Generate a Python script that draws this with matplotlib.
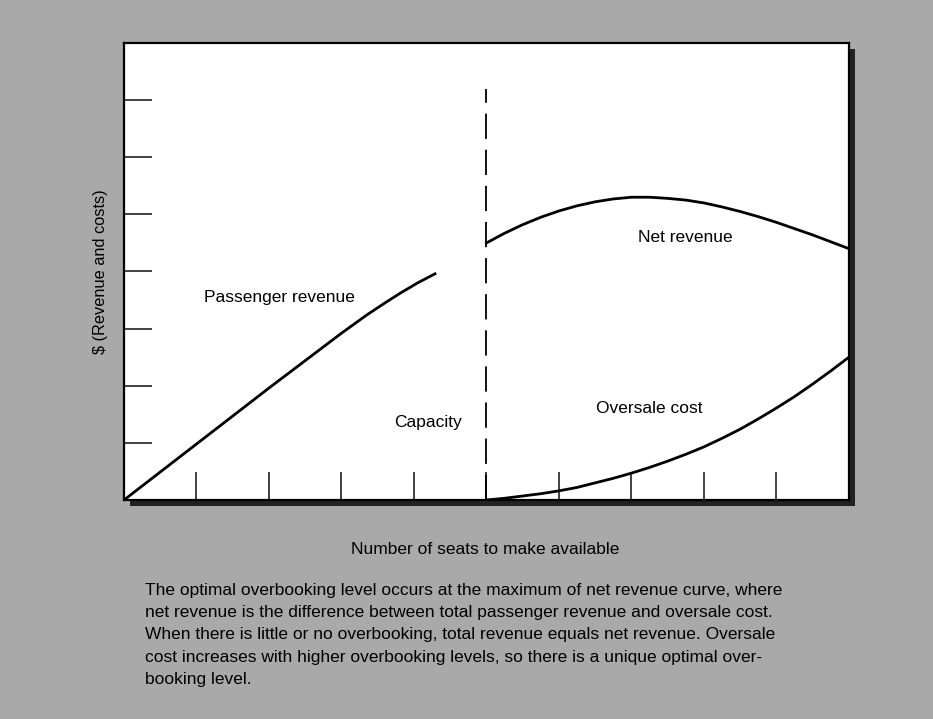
import numpy as np
import matplotlib.pyplot as plt
from matplotlib.patches import Rectangle

# curve values in chart units (x: seats, y: dollars)
pass_x = [0, 1, 2, 2.5, 3, 3.35, 3.6, 3.81, 4.05, 4.29]
pass_y = [0, 0.98, 1.96, 2.44, 2.92, 3.24, 3.45, 3.62, 3.8, 3.96]

net_x = [5, 5.25, 5.5, 5.75, 6, 6.25, 6.5, 6.75, 7, 7.25, 7.5,
         7.75, 8, 8.25, 8.5, 8.75, 9, 9.25, 9.5, 9.75, 10]
net_y = [4.5, 4.67, 4.82, 4.95, 5.06, 5.15, 5.22, 5.27, 5.3, 5.3, 5.28,
         5.25, 5.2, 5.13, 5.05, 4.96, 4.86, 4.75, 4.64, 4.52, 4.4]

cost_x = [5, 5.25, 5.5, 5.75, 6, 6.25, 6.5, 6.75, 7, 7.25, 7.5,
          7.75, 8, 8.25, 8.5, 8.75, 9, 9.25, 9.5, 9.75, 10]
cost_y = [0, 0.03, 0.07, 0.11, 0.16, 0.22, 0.3, 0.38, 0.47, 0.57, 0.68,
          0.8, 0.93, 1.08, 1.24, 1.42, 1.61, 1.81, 2.03, 2.26, 2.5]

capacity = 5
capacity_top = 7.2

x_ticks = [1, 2, 3, 4, 5, 6, 7, 8, 9]
y_ticks = [1, 2, 3, 4, 5, 6, 7]

caption = ("The optimal overbooking level occurs at the maximum of net revenue curve, where\n"
           "net revenue is the difference between total passenger revenue and oversale cost.\n"
           "When there is little or no overbooking, total revenue equals net revenue. Oversale\n"
           "cost increases with higher overbooking levels, so there is a unique optimal over-\n"
           "booking level.")

plt.rcParams['font.family'] = ['Liberation Sans', 'DejaVu Sans']
fs = 12.5

bg = '#a9a9a9'
fig = plt.figure(figsize=(9.33, 7.19), dpi=100, facecolor=bg)

left, bottom, w, h = 0.1329, 0.3046, 0.777, 0.6356
# drop shadow behind the plot box
fig.patches.append(Rectangle((left + 0.006, bottom - 0.008), w, h, transform=fig.transFigure,
                             facecolor='#222222', edgecolor='none', zorder=-5))
ax = fig.add_axes([left, bottom, w, h])
ax.set_zorder(2)
ax.set_facecolor('white')

ax.plot(pass_x, pass_y, color='black', lw=2, solid_joinstyle='round')
ax.plot(net_x, net_y, color='black', lw=2, solid_joinstyle='round')
ax.plot(cost_x, cost_y, color='black', lw=2, solid_joinstyle='round')
ax.plot([capacity, capacity], [0, capacity_top], color='black', lw=1.3, dashes=(14, 6))

ax.text(1.1, 3.55, 'Passenger revenue', fontsize=fs, va='center')
ax.text(7.74, 4.6, 'Net revenue', fontsize=fs, va='center', ha='center')
ax.text(4.2, 1.35, 'Capacity', fontsize=fs, va='center', ha='center')
ax.text(7.25, 1.6, 'Oversale cost', fontsize=fs, va='center', ha='center')

ax.set_xlim(0, 10)
ax.set_ylim(0, 8)
ax.set_xticks(x_ticks)
ax.set_yticks(y_ticks)
ax.set_xticklabels([])
ax.set_yticklabels([])
ax.tick_params(direction='in', length=20, width=1.2, color='#222222')
for s in ax.spines.values():
    s.set_linewidth(1.6)
    s.set_color('black')

ax.set_ylabel('$ (Revenue and costs)', fontsize=11.8, labelpad=8)
fig.text(485 / 933, 1 - 550 / 719, 'Number of seats to make available', fontsize=fs,
         ha='center', va='center')
fig.text(145 / 933, 1 - 583 / 719, caption, fontsize=fs, ha='left', va='top',
         linespacing=1.6)

fig.savefig('out.png', dpi=100, facecolor=bg)
